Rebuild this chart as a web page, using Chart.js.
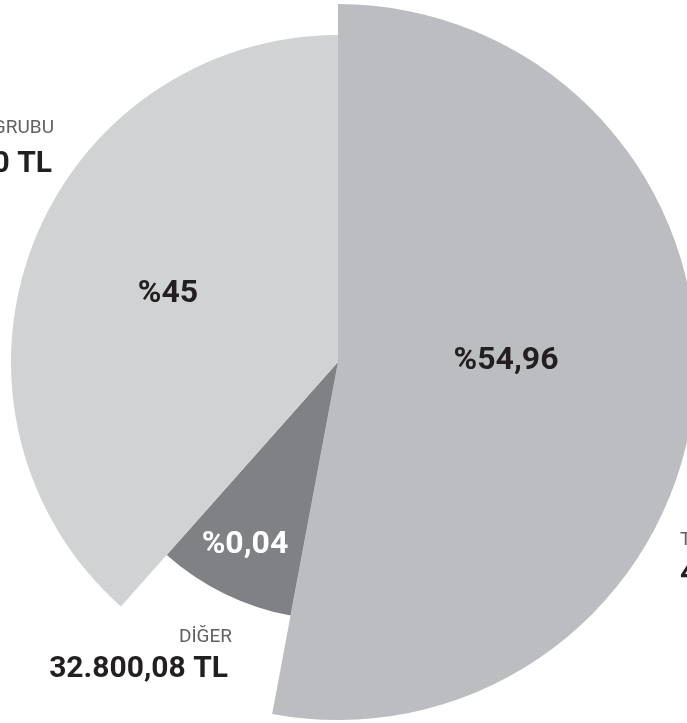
<!DOCTYPE html>
<html>
<head>
<meta charset="utf-8">
<script src="https://cdn.jsdelivr.net/npm/chart.js@4"></script>
<style>
  html, body { margin: 0; padding: 0; background: #fff; overflow: hidden; width: 687px; height: 723px; }
  #wrap { position: absolute; left: -22px; top: 2px; width: 720px; height: 720px; }
</style>
</head>
<body>
<div id="wrap"><canvas id="pieChart" width="720" height="720"></canvas></div>
<script>
// slices, clockwise from 12 o'clock
const categories = ['T', 'DİĞER', 'GRUBU'];
const percentLabels = ['%54,96', '%0,04', '%45'];
const amountLabels = ['4', '32.800,08 TL', '0 TL'];
// slice sweep as drawn (degrees) and outer radius as drawn (scale units)
const sliceAngles = [190.6, 31, 138.4];
const sliceRadius = [358, 258, 327];
const sliceColors = ['#bcbdc0', '#808184', '#d1d2d4'];

const textDark = '#231f20';
const textLight = '#606164';

// label placement relative to pie centre
const labelLayout = {
    pct: [
        { dx: 168, dy: 7, color: textDark },
        { dx: -93, dy: 191, color: '#ffffff' },
        { dx: -170, dy: -60, color: textDark }
    ],
    names: [
        { dx: 342, dy: 183, align: 'left' },
        { dx: -106, dy: 280, align: 'right' },
        { dx: -284, dy: -229, align: 'right' }
    ],
    amounts: [
        { dx: 342, dy: 220, align: 'left' },
        { dx: -110, dy: 315, align: 'right' },
        { dx: -286, dy: -190, align: 'right' }
    ]
};

const labelPlugin = {
    id: 'sliceLabels',
    afterDatasetsDraw(chart) {
        const ctx = chart.ctx;
        const arc = chart.getDatasetMeta(0).data[0];
        const cx = arc.x, cy = arc.y;
        ctx.save();
        ctx.textBaseline = 'alphabetic';

        ctx.font = 'bold 32px Roboto';
        ctx.textAlign = 'center';
        percentLabels.forEach((txt, i) => {
            const p = labelLayout.pct[i];
            ctx.fillStyle = p.color;
            ctx.fillText(txt, cx + p.dx, cy + p.dy);
        });

        ctx.font = '19px Roboto';
        ctx.fillStyle = textLight;
        categories.forEach((txt, i) => {
            const p = labelLayout.names[i];
            ctx.textAlign = p.align;
            ctx.fillText(txt, cx + p.dx, cy + p.dy);
        });

        ctx.font = 'bold 30px Roboto';
        ctx.fillStyle = textDark;
        amountLabels.forEach((txt, i) => {
            const p = labelLayout.amounts[i];
            ctx.textAlign = p.align;
            ctx.fillText(txt, cx + p.dx, cy + p.dy);
        });
        ctx.restore();
    }
};

const ctx = document.getElementById('pieChart').getContext('2d');
new Chart(ctx, {
    type: 'polarArea',
    data: {
        labels: categories,
        datasets: [{
            data: sliceRadius,
            backgroundColor: sliceColors,
            borderWidth: 0,
            angle: (c) => sliceAngles[c.dataIndex]
        }]
    },
    options: {
        responsive: false,
        animation: false,
        layout: { padding: 0 },
        plugins: {
            legend: { display: false },
            tooltip: { enabled: false }
        },
        scales: {
            r: {
                display: false,
                min: 0,
                max: 360,
                startAngle: 0
            }
        }
    },
    plugins: [labelPlugin]
});
</script>
</body>
</html>
